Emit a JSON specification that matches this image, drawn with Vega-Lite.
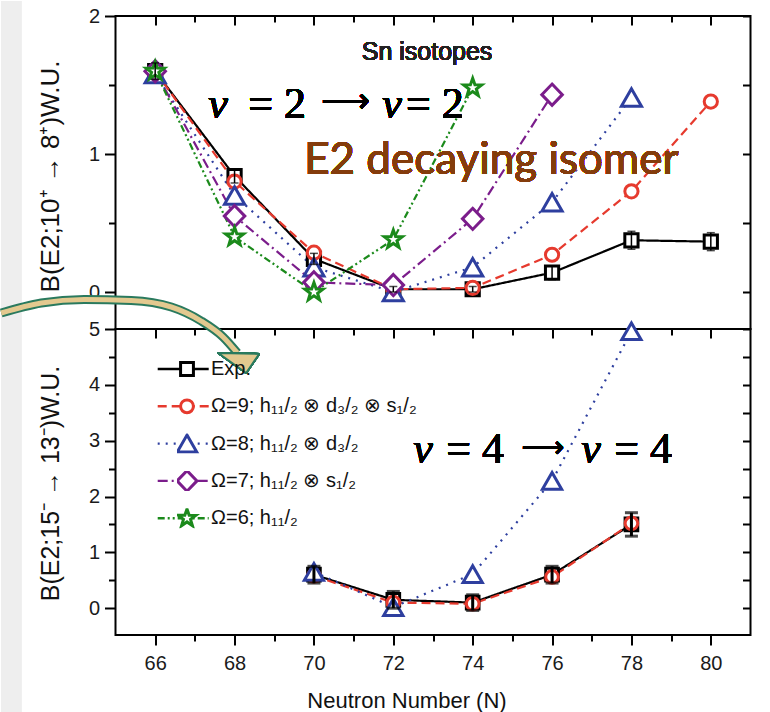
{
  "$schema": "https://vega.github.io/schema/vega-lite/v6.json",
  "background": "white",
  "padding": {"left": -4.5, "top": 0, "right": 20, "bottom": 0},
  "spacing": 0,
  "bounds": "flush",
  "config": {
    "view": {"stroke": "black", "strokeWidth": 2},
    "axis": {
      "domain": false, "grid": false,
      "labelFont": "Liberation Sans", "labelFontSize": 20, "labelColor": "#1a1a1a",
      "labelFlush": false, "labelOverlap": false, "labelBound": false,
      "tickColor": "black", "tickWidth": 2,
      "titleFont": "Liberation Sans", "titleFontWeight": "normal", "titleColor": "#111111", "titleFontSize": 25
    },
    "legend": {"labelFont": "Liberation Sans", "labelFontSize": 20, "labelColor": "#111111", "labelLimit": 0, "padding": 0, "clipHeight": 20, "rowPadding": 17.3}
  },
  "resolve": {"legend": {"color": "independent", "strokeDash": "independent"}},
  "vconcat": [
    {
      "width": 635,
      "height": 313,
      "data": {"values": [
        {"N": 66, "B": 1.60, "series": "Exp.", "err": 0.06},
        {"N": 68, "B": 0.84, "series": "Exp.", "err": 0.05},
        {"N": 70, "B": 0.24, "series": "Exp.", "err": 0.04},
        {"N": 72, "B": 0.02, "series": "Exp.", "err": 0.02},
        {"N": 74, "B": 0.02, "series": "Exp.", "err": 0.02},
        {"N": 76, "B": 0.14, "series": "Exp.", "err": 0.05},
        {"N": 78, "B": 0.375, "series": "Exp.", "err": 0.065},
        {"N": 80, "B": 0.365, "series": "Exp.", "err": 0.065},
        {"N": 66, "B": 1.60, "series": "Ω=9; h₁₁/₂ ⊗ d₃/₂ ⊗ s₁/₂"},
        {"N": 68, "B": 0.80, "series": "Ω=9; h₁₁/₂ ⊗ d₃/₂ ⊗ s₁/₂"},
        {"N": 70, "B": 0.285, "series": "Ω=9; h₁₁/₂ ⊗ d₃/₂ ⊗ s₁/₂"},
        {"N": 72, "B": 0.02, "series": "Ω=9; h₁₁/₂ ⊗ d₃/₂ ⊗ s₁/₂"},
        {"N": 74, "B": 0.03, "series": "Ω=9; h₁₁/₂ ⊗ d₃/₂ ⊗ s₁/₂"},
        {"N": 76, "B": 0.27, "series": "Ω=9; h₁₁/₂ ⊗ d₃/₂ ⊗ s₁/₂"},
        {"N": 78, "B": 0.73, "series": "Ω=9; h₁₁/₂ ⊗ d₃/₂ ⊗ s₁/₂"},
        {"N": 80, "B": 1.38, "series": "Ω=9; h₁₁/₂ ⊗ d₃/₂ ⊗ s₁/₂"},
        {"N": 66, "B": 1.58, "series": "Ω=8; h₁₁/₂ ⊗ d₃/₂"},
        {"N": 68, "B": 0.70, "series": "Ω=8; h₁₁/₂ ⊗ d₃/₂"},
        {"N": 70, "B": 0.18, "series": "Ω=8; h₁₁/₂ ⊗ d₃/₂"},
        {"N": 72, "B": 0.0, "series": "Ω=8; h₁₁/₂ ⊗ d₃/₂"},
        {"N": 74, "B": 0.18, "series": "Ω=8; h₁₁/₂ ⊗ d₃/₂"},
        {"N": 76, "B": 0.65, "series": "Ω=8; h₁₁/₂ ⊗ d₃/₂"},
        {"N": 78, "B": 1.41, "series": "Ω=8; h₁₁/₂ ⊗ d₃/₂"},
        {"N": 66, "B": 1.60, "series": "Ω=7; h₁₁/₂ ⊗ s₁/₂"},
        {"N": 68, "B": 0.55, "series": "Ω=7; h₁₁/₂ ⊗ s₁/₂"},
        {"N": 70, "B": 0.07, "series": "Ω=7; h₁₁/₂ ⊗ s₁/₂"},
        {"N": 72, "B": 0.05, "series": "Ω=7; h₁₁/₂ ⊗ s₁/₂"},
        {"N": 74, "B": 0.53, "series": "Ω=7; h₁₁/₂ ⊗ s₁/₂"},
        {"N": 76, "B": 1.43, "series": "Ω=7; h₁₁/₂ ⊗ s₁/₂"},
        {"N": 66, "B": 1.60, "series": "Ω=6; h₁₁/₂"},
        {"N": 68, "B": 0.40, "series": "Ω=6; h₁₁/₂"},
        {"N": 70, "B": 0.0, "series": "Ω=6; h₁₁/₂"},
        {"N": 72, "B": 0.38, "series": "Ω=6; h₁₁/₂"},
        {"N": 74, "B": 1.48, "series": "Ω=6; h₁₁/₂"}
      ]},
      "resolve": {"axis": {"x": "independent", "y": "independent"}},
      "layer": [
        {
          "mark": {"type": "line", "strokeWidth": 2.2},
          "encoding": {
            "x": {"field": "N", "type": "quantitative",
              "scale": {"domain": [65, 81], "nice": false, "zero": false},
              "axis": {"orient": "top", "values": [66, 67, 68, 69, 70, 71, 72, 73, 74, 75, 76, 77, 78, 79, 80], "labels": false, "title": null,
                "tickSize": {"condition": {"test": "datum.value % 2 != 0", "value": -6}, "value": -9}}},
            "y": {"field": "B", "type": "quantitative",
              "scale": {"domain": [-0.268, 2], "nice": false, "zero": false},
              "axis": {"orient": "left", "values": [0, 0.5, 1, 1.5, 2], "labelExpr": "datum.value % 1 == 0 ? format(datum.value, 'd') : ''", "labelPadding": 5,
                "tickSize": {"condition": {"test": "datum.value % 1 != 0", "value": 7}, "value": 11},
                "title": "B(E2;10⁺  →  8⁺)W.U.", "titleFontSize": 26, "titleX": -57, "titleY": 160, "titleAngle": -90, "titleAlign": "center", "titleBaseline": "alphabetic"}},
            "color": {"field": "series", "type": "nominal",
              "scale": {"domain": ["Exp.", "Ω=9; h₁₁/₂ ⊗ d₃/₂ ⊗ s₁/₂", "Ω=8; h₁₁/₂ ⊗ d₃/₂", "Ω=7; h₁₁/₂ ⊗ s₁/₂", "Ω=6; h₁₁/₂"],
                "range": ["#000000", "#e63a2e", "#2e3f9f", "#7b1d8b", "#1b8a1b"]}, "legend": null},
            "strokeDash": {"field": "series", "type": "nominal",
              "scale": {"domain": ["Exp.", "Ω=9; h₁₁/₂ ⊗ d₃/₂ ⊗ s₁/₂", "Ω=8; h₁₁/₂ ⊗ d₃/₂", "Ω=7; h₁₁/₂ ⊗ s₁/₂", "Ω=6; h₁₁/₂"],
                "range": [[1, 0], [9, 5], [2, 6], [10, 4, 2, 4], [7, 3, 2, 3, 2, 3]]}, "legend": null}
          }
        },
        {
          "mark": {"type": "point", "filled": true, "fill": "white", "fillOpacity": 1, "strokeWidth": 3, "opacity": 1, "size": 175},
          "encoding": {
            "x": {"field": "N", "type": "quantitative", "axis": null},
            "y": {"field": "B", "type": "quantitative",
              "axis": {"orient": "right", "values": [0, 0.5, 1, 1.5, 2], "labels": false, "title": null, "tickSize": -8}},
            "stroke": {"field": "series", "type": "nominal",
              "scale": {"domain": ["Exp.", "Ω=9; h₁₁/₂ ⊗ d₃/₂ ⊗ s₁/₂", "Ω=8; h₁₁/₂ ⊗ d₃/₂", "Ω=7; h₁₁/₂ ⊗ s₁/₂", "Ω=6; h₁₁/₂"],
                "range": ["#000000", "#e63a2e", "#2e3f9f", "#7b1d8b", "#1b8a1b"]},
              "legend": {"orient": "none", "legendX": 61.5, "legendY": 343, "title": null, "symbolSize": 165, "symbolStrokeWidth": 3,
                "symbolFillColor": "white", "symbolOpacity": 1, "labelOffset": 14, "labelLimit": 0, "clipHeight": 20, "rowPadding": 17.3, "padding": 0}},
            "shape": {"field": "series", "type": "nominal",
              "scale": {"domain": ["Exp.", "Ω=9; h₁₁/₂ ⊗ d₃/₂ ⊗ s₁/₂", "Ω=8; h₁₁/₂ ⊗ d₃/₂", "Ω=7; h₁₁/₂ ⊗ s₁/₂", "Ω=6; h₁₁/₂"],
                "range": ["square", "circle", "M0,-1.32L1.52,1.32L-1.52,1.32Z", "M0,-1.6L1.55,0L0,1.6L-1.55,0Z",
                  "M0,-1.44L0.341,-0.469L1.37,-0.445L0.552,0.179L0.846,1.165L0,0.58L-0.846,1.165L-0.552,0.179L-1.37,-0.445L-0.341,-0.469Z"]},
              "legend": {"orient": "none", "legendX": 61.5, "legendY": 343, "title": null, "symbolSize": 165, "symbolStrokeWidth": 3,
                "symbolFillColor": "white", "symbolOpacity": 1, "labelOffset": 14, "labelLimit": 0, "clipHeight": 20, "rowPadding": 17.3, "padding": 0}}
          }
        },
        {
          "transform": [{"filter": "isValid(datum.err)"}],
          "mark": {"type": "errorbar", "ticks": true, "size": 8, "thickness": 1.5, "color": "black"},
          "encoding": {
            "x": {"field": "N", "type": "quantitative", "axis": null},
            "y": {"field": "B", "type": "quantitative", "axis": null},
            "yError": {"field": "err"}
          }
        },
        {
          "mark": {"type": "text", "text": "Sn isotopes", "font": "Liberation Sans", "fontSize": 25, "color": "#222222", "align": "center", "baseline": "alphabetic"},
          "encoding": {"x": {"datum": 72.85, "axis": null}, "y": {"datum": 1.679, "axis": null}}
        },
        {
          "mark": {"type": "text", "text": "v", "font": "Liberation Serif", "fontStyle": "italic", "fontSize": 44, "color": "#000000", "align": "left", "baseline": "alphabetic"},
          "encoding": {"x": {"datum": 67.336, "axis": null}, "y": {"datum": 1.261, "axis": null}}
        },
        {
          "mark": {"type": "text", "text": "= 2", "font": "Liberation Serif", "fontSize": 44, "color": "#000000", "align": "left", "baseline": "alphabetic"},
          "encoding": {"x": {"datum": 68.344, "axis": null}, "y": {"datum": 1.261, "axis": null}}
        },
        {
          "mark": {"type": "text", "text": "⟶", "font": "DejaVu Sans", "fontSize": 34, "color": "#000000", "align": "left", "baseline": "middle"},
          "encoding": {"x": {"datum": 70.183, "axis": null}, "y": {"datum": 1.377, "axis": null}}
        },
        {
          "mark": {"type": "text", "text": "v", "font": "Liberation Serif", "fontStyle": "italic", "fontSize": 44, "color": "#000000", "align": "left", "baseline": "alphabetic"},
          "encoding": {"x": {"datum": 71.72, "axis": null}, "y": {"datum": 1.261, "axis": null}}
        },
        {
          "mark": {"type": "text", "text": "= 2", "font": "Liberation Serif", "fontSize": 44, "color": "#000000", "align": "left", "baseline": "alphabetic"},
          "encoding": {"x": {"datum": 72.32, "axis": null}, "y": {"datum": 1.261, "axis": null}}
        },
        {
          "mark": {"type": "text", "text": "E2 decaying isomer", "font": "Lato", "fontSize": 44, "color": "#843c0c", "align": "left", "baseline": "alphabetic"},
          "encoding": {"x": {"datum": 69.753, "axis": null}, "y": {"datum": 0.855, "axis": null}}
        }
      ]
    },
    {
      "width": 635,
      "height": 306,
      "data": {"values": [
        {"N": 70, "B": 0.60, "series": "Exp.", "err": 0.15},
        {"N": 72, "B": 0.15, "series": "Exp.", "err": 0.15},
        {"N": 74, "B": 0.10, "series": "Exp.", "err": 0.14},
        {"N": 76, "B": 0.60, "series": "Exp.", "err": 0.15},
        {"N": 78, "B": 1.50, "series": "Exp.", "err": 0.21},
        {"N": 70, "B": 0.58, "series": "Ω=9; h₁₁/₂ ⊗ d₃/₂ ⊗ s₁/₂"},
        {"N": 72, "B": 0.10, "series": "Ω=9; h₁₁/₂ ⊗ d₃/₂ ⊗ s₁/₂"},
        {"N": 74, "B": 0.08, "series": "Ω=9; h₁₁/₂ ⊗ d₃/₂ ⊗ s₁/₂"},
        {"N": 76, "B": 0.56, "series": "Ω=9; h₁₁/₂ ⊗ d₃/₂ ⊗ s₁/₂"},
        {"N": 78, "B": 1.52, "series": "Ω=9; h₁₁/₂ ⊗ d₃/₂ ⊗ s₁/₂"},
        {"N": 70, "B": 0.65, "series": "Ω=8; h₁₁/₂ ⊗ d₃/₂"},
        {"N": 72, "B": 0.02, "series": "Ω=8; h₁₁/₂ ⊗ d₃/₂"},
        {"N": 74, "B": 0.61, "series": "Ω=8; h₁₁/₂ ⊗ d₃/₂"},
        {"N": 76, "B": 2.28, "series": "Ω=8; h₁₁/₂ ⊗ d₃/₂"},
        {"N": 78, "B": 4.96, "series": "Ω=8; h₁₁/₂ ⊗ d₃/₂"}
      ]},
      "resolve": {"axis": {"x": "independent", "y": "independent"}},
      "layer": [
        {
          "mark": {"type": "rect", "fill": "#eeeeee", "clip": false},
          "encoding": {
            "x": {"datum": 62.12, "type": "quantitative", "axis": null},
            "x2": {"datum": 62.624},
            "y": {"datum": 10.873, "type": "quantitative", "axis": null},
            "y2": {"datum": -1.877}
          }
        },
        {
          "mark": {"type": "line", "strokeWidth": 2.2},
          "encoding": {
            "x": {"field": "N", "type": "quantitative",
              "scale": {"domain": [65, 81], "nice": false, "zero": false},
              "axis": {"orient": "bottom", "values": [66, 67, 68, 69, 70, 71, 72, 73, 74, 75, 76, 77, 78, 79, 80],
                "labelExpr": "datum.value % 2 == 0 ? format(datum.value, 'd') : ''", "labelPadding": 8,
                "tickSize": {"condition": {"test": "datum.value % 2 != 0", "value": 6}, "value": 10},
                "title": "Neutron Number (N)", "titleFontSize": 22, "titleX": 291, "titleY": 72, "titleAlign": "center", "titleBaseline": "alphabetic"}},
            "y": {"field": "B", "type": "quantitative",
              "scale": {"domain": [-0.48, 5], "nice": false, "zero": false},
              "axis": {"orient": "left", "values": [0, 0.5, 1, 1.5, 2, 2.5, 3, 3.5, 4, 4.5, 5], "labelExpr": "datum.value % 1 == 0 ? format(datum.value, 'd') : ''", "labelPadding": 5,
                "tickSize": {"condition": {"test": "datum.value % 1 != 0", "value": 7}, "value": 11},
                "title": "B(E2;15⁻  →  13⁻)W.U.", "titleX": -57, "titleY": 154, "titleAngle": -90, "titleAlign": "center", "titleBaseline": "alphabetic"}},
            "color": {"field": "series", "type": "nominal",
              "scale": {"domain": ["Exp.", "Ω=9; h₁₁/₂ ⊗ d₃/₂ ⊗ s₁/₂", "Ω=8; h₁₁/₂ ⊗ d₃/₂", "Ω=7; h₁₁/₂ ⊗ s₁/₂", "Ω=6; h₁₁/₂"],
                "range": ["#000000", "#e63a2e", "#2e3f9f", "#7b1d8b", "#1b8a1b"]},
              "legend": {"orient": "none", "legendX": 40.7, "legendY": 30, "title": null, "symbolType": "stroke", "symbolSize": 2601, "symbolStrokeWidth": 2.4,
                "labelExpr": "''", "clipHeight": 20, "rowPadding": 17.3, "padding": 0}},
            "strokeDash": {"field": "series", "type": "nominal",
              "scale": {"domain": ["Exp.", "Ω=9; h₁₁/₂ ⊗ d₃/₂ ⊗ s₁/₂", "Ω=8; h₁₁/₂ ⊗ d₃/₂", "Ω=7; h₁₁/₂ ⊗ s₁/₂", "Ω=6; h₁₁/₂"],
                "range": [[1, 0], [9, 5], [2, 6], [10, 4, 2, 4], [7, 3, 2, 3, 2, 3]]},
              "legend": {"orient": "none", "legendX": 40.7, "legendY": 30, "title": null, "symbolType": "stroke", "symbolSize": 2601, "symbolStrokeWidth": 2.4,
                "labelExpr": "''", "clipHeight": 20, "rowPadding": 17.3, "padding": 0}}
          }
        },
        {
          "mark": {"type": "point", "filled": true, "fill": "white", "fillOpacity": 1, "strokeWidth": 3, "opacity": 1, "size": 160},
          "encoding": {
            "x": {"field": "N", "type": "quantitative",
              "axis": {"orient": "top", "values": [66, 67, 68, 69, 70, 71, 72, 73, 74, 75, 76, 77, 78, 79, 80], "labels": false, "title": null,
                "tickSize": {"condition": {"test": "datum.value % 2 != 0", "value": -6}, "value": -9}}},
            "y": {"field": "B", "type": "quantitative",
              "axis": {"orient": "right", "values": [0, 0.5, 1, 1.5, 2, 2.5, 3, 3.5, 4, 4.5, 5], "labels": false, "title": null, "tickSize": -8}},
            "stroke": {"field": "series", "type": "nominal",
              "scale": {"domain": ["Exp.", "Ω=9; h₁₁/₂ ⊗ d₃/₂ ⊗ s₁/₂", "Ω=8; h₁₁/₂ ⊗ d₃/₂", "Ω=7; h₁₁/₂ ⊗ s₁/₂", "Ω=6; h₁₁/₂"],
                "range": ["#000000", "#e63a2e", "#2e3f9f", "#7b1d8b", "#1b8a1b"]},
              "legend": {"orient": "none", "legendX": 61.5, "legendY": 343, "title": null, "symbolSize": 165, "symbolStrokeWidth": 3,
                "symbolFillColor": "white", "symbolOpacity": 1, "labelOffset": 14, "labelLimit": 0, "clipHeight": 20, "rowPadding": 17.3, "padding": 0}},
            "shape": {"field": "series", "type": "nominal",
              "scale": {"domain": ["Exp.", "Ω=9; h₁₁/₂ ⊗ d₃/₂ ⊗ s₁/₂", "Ω=8; h₁₁/₂ ⊗ d₃/₂", "Ω=7; h₁₁/₂ ⊗ s₁/₂", "Ω=6; h₁₁/₂"],
                "range": ["square", "circle", "M0,-1.32L1.52,1.32L-1.52,1.32Z", "M0,-1.6L1.55,0L0,1.6L-1.55,0Z",
                  "M0,-1.44L0.341,-0.469L1.37,-0.445L0.552,0.179L0.846,1.165L0,0.58L-0.846,1.165L-0.552,0.179L-1.37,-0.445L-0.341,-0.469Z"]},
              "legend": {"orient": "none", "legendX": 61.5, "legendY": 343, "title": null, "symbolSize": 165, "symbolStrokeWidth": 3,
                "symbolFillColor": "white", "symbolOpacity": 1, "labelOffset": 14, "labelLimit": 0, "clipHeight": 20, "rowPadding": 17.3, "padding": 0}}
          }
        },
        {
          "transform": [{"filter": "isValid(datum.err)"}],
          "mark": {"type": "errorbar", "ticks": true, "size": 13, "thickness": 3, "color": "black"},
          "encoding": {
            "x": {"field": "N", "type": "quantitative", "axis": null},
            "y": {"field": "B", "type": "quantitative", "axis": null},
            "yError": {"field": "err"}
          }
        },
        {
          "mark": {"type": "text", "text": "v", "font": "Liberation Serif", "fontStyle": "italic", "fontSize": 44, "color": "#000000", "align": "left", "baseline": "alphabetic"},
          "encoding": {"x": {"datum": 72.501, "axis": null}, "y": {"datum": 2.603, "axis": null}}
        },
        {
          "mark": {"type": "text", "text": "= 4", "font": "Liberation Serif", "fontSize": 44, "color": "#000000", "align": "left", "baseline": "alphabetic"},
          "encoding": {"x": {"datum": 73.332, "axis": null}, "y": {"datum": 2.603, "axis": null}}
        },
        {
          "mark": {"type": "text", "text": "⟶", "font": "DejaVu Sans", "fontSize": 30, "color": "#000000", "align": "left", "baseline": "middle"},
          "encoding": {"x": {"datum": 75.222, "axis": null}, "y": {"datum": 2.869, "axis": null}}
        },
        {
          "mark": {"type": "text", "text": "v", "font": "Liberation Serif", "fontStyle": "italic", "fontSize": 44, "color": "#000000", "align": "left", "baseline": "alphabetic"},
          "encoding": {"x": {"datum": 76.734, "axis": null}, "y": {"datum": 2.603, "axis": null}}
        },
        {
          "mark": {"type": "text", "text": "= 4", "font": "Liberation Serif", "fontSize": 44, "color": "#000000", "align": "left", "baseline": "alphabetic"},
          "encoding": {"x": {"datum": 77.565, "axis": null}, "y": {"datum": 2.603, "axis": null}}
        },
        {
          "data": {"values": [
            {"x": 62.12, "y": 5.286},
            {"x": 63.128, "y": 5.465},
            {"x": 64.212, "y": 5.528},
            {"x": 65.395, "y": 5.51},
            {"x": 66.406, "y": 5.394},
            {"x": 67.16, "y": 5.143},
            {"x": 67.71, "y": 4.857},
            {"x": 68.07, "y": 4.571}
          ]},
          "layer": [
            {
              "mark": {"type": "line", "stroke": "#2a7a5e", "strokeWidth": 9, "strokeJoin": "round", "interpolate": "monotone", "clip": false},
              "encoding": {"x": {"field": "x", "type": "quantitative", "axis": null}, "y": {"field": "y", "type": "quantitative", "axis": null}}
            },
            {
              "mark": {"type": "line", "stroke": "#e3c98f", "strokeWidth": 5, "strokeJoin": "round", "interpolate": "monotone", "clip": false},
              "encoding": {"x": {"field": "x", "type": "quantitative", "axis": null}, "y": {"field": "y", "type": "quantitative", "axis": null}}
            }
          ]
        },
        {
          "mark": {"type": "point", "shape": "M-1,-0.5L1.05,-0.45L0.4,0.5Z", "size": 1600, "filled": true, "fill": "#e3c98f", "stroke": "#2a7a5e", "strokeWidth": 2, "strokeJoin": "round", "opacity": 1, "clip": false},
          "encoding": {"x": {"datum": 68.09, "axis": null}, "y": {"datum": 4.392, "axis": null}}
        }
      ]
    }
  ]
}
